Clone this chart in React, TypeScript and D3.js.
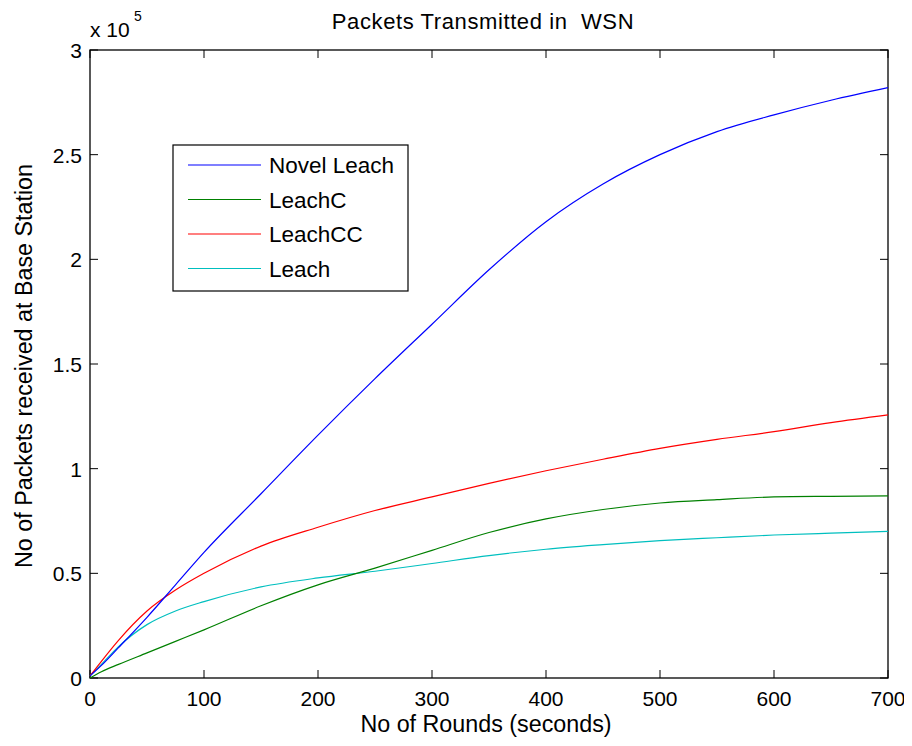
import * as d3 from 'd3';
import React, { useRef, useEffect } from 'react';

// rounds on the x axis
const rounds = [0, 10, 25, 50, 75, 100, 150, 200, 250, 300, 350, 400, 450, 500, 550, 600, 650, 700];

// packets received (x 10^5)
const novelLeach = [0.01, 0.06, 0.145, 0.29, 0.445, 0.6, 0.88, 1.16, 1.43, 1.69, 1.95, 2.18, 2.36, 2.5, 2.61, 2.69, 2.76, 2.82];
const leachC = [0.0, 0.03, 0.065, 0.12, 0.175, 0.23, 0.345, 0.445, 0.525, 0.61, 0.695, 0.76, 0.805, 0.836, 0.852, 0.865, 0.868, 0.87];
const leachCC = [0.01, 0.08, 0.18, 0.32, 0.42, 0.5, 0.63, 0.72, 0.8, 0.865, 0.93, 0.99, 1.045, 1.097, 1.14, 1.177, 1.22, 1.257];
const leach = [0.01, 0.065, 0.15, 0.255, 0.32, 0.365, 0.435, 0.478, 0.51, 0.547, 0.585, 0.615, 0.637, 0.656, 0.67, 0.683, 0.692, 0.7];

const seriesNames = ['Novel Leach', 'LeachC', 'LeachCC', 'Leach'];
const seriesColors = ['#0000ff', '#008000', '#ff0000', '#00bfbf'];

const xTicks = [0, 100, 200, 300, 400, 500, 600, 700];
const yTicks = [0, 0.5, 1, 1.5, 2, 2.5, 3];

const width = 912;
const height = 746;
const font = '"Liberation Sans", Arial, sans-serif';

function App() {
  const ref = useRef(null);

  useEffect(() => {
    const svg = d3.select(ref.current);
    svg.selectAll('*').remove();

    const left = 90, right = 888, top = 50, bottom = 678;

    const x = d3.scaleLinear().domain([0, 700]).range([left, right]);
    const y = d3.scaleLinear().domain([0, 3]).range([bottom, top]);

    svg.append('rect').attr('width', width).attr('height', height).attr('fill', '#fff');

    // plot box
    svg.append('rect')
      .attr('x', left).attr('y', top)
      .attr('width', right - left).attr('height', bottom - top)
      .attr('fill', 'none').attr('stroke', '#000').attr('stroke-width', 1.3);

    // x ticks (inside, top and bottom)
    xTicks.forEach(t => {
      svg.append('line').attr('x1', x(t)).attr('x2', x(t)).attr('y1', bottom).attr('y2', bottom - 8).attr('stroke', '#000');
      svg.append('line').attr('x1', x(t)).attr('x2', x(t)).attr('y1', top).attr('y2', top + 8).attr('stroke', '#000');
      svg.append('text').attr('x', x(t)).attr('y', 706)
        .attr('text-anchor', 'middle').attr('font-family', font).attr('font-size', 21)
        .text(t);
    });

    yTicks.forEach(t => {
      svg.append('line').attr('x1', left).attr('x2', left + 8).attr('y1', y(t)).attr('y2', y(t)).attr('stroke', '#000');
      svg.append('line').attr('x1', right).attr('x2', right - 8).attr('y1', y(t)).attr('y2', y(t)).attr('stroke', '#000');
      svg.append('text').attr('x', 82).attr('y', y(t) + 8)
        .attr('text-anchor', 'end').attr('font-family', font).attr('font-size', 21)
        .text(d3.format('~g')(t));
    });

    // exponent label
    svg.append('text').attr('x', 90).attr('y', 37).attr('font-family', font).attr('font-size', 21).text('x 10');
    svg.append('text').attr('x', 134).attr('y', 21).attr('font-family', font).attr('font-size', 14).text('5');

    // lines
    const allSeries = [novelLeach, leachC, leachCC, leach];
    const line = d3.line()
      .x((d, i) => x(rounds[i]))
      .y(d => y(d))
      .curve(d3.curveMonotoneX);

    [3, 1, 2, 0].forEach(k => {
      svg.append('path')
        .datum(allSeries[k])
        .attr('d', line)
        .attr('fill', 'none')
        .attr('stroke', seriesColors[k])
        .attr('stroke-width', 1.2);
    });

    // legend
    const lg = svg.append('g');
    lg.append('rect').attr('x', 173).attr('y', 145).attr('width', 235).attr('height', 146)
      .attr('fill', '#fff').attr('stroke', '#000').attr('stroke-width', 1.2);
    seriesNames.forEach((name, i) => {
      const ly = 165 + i * 34.5;
      lg.append('line').attr('x1', 188).attr('x2', 261).attr('y1', ly).attr('y2', ly)
        .attr('stroke', seriesColors[i]).attr('stroke-width', 1.2);
      lg.append('text').attr('x', 269).attr('y', ly + 8)
        .attr('font-family', font).attr('font-size', 22.5).text(name);
    });

    // title and axis labels
    svg.append('text').attr('x', 483).attr('y', 29).attr('text-anchor', 'middle')
      .attr('font-family', font).attr('font-size', 22).style('white-space', 'pre')
      .attr('letter-spacing', 0.6)
      .text('Packets Transmitted in  WSN');
    svg.append('text').attr('x', 486).attr('y', 732).attr('text-anchor', 'middle')
      .attr('font-family', font).attr('font-size', 23.3).text('No of Rounds (seconds)');
    svg.append('text').attr('transform', 'translate(32,366) rotate(-90)').attr('text-anchor', 'middle')
      .attr('font-family', font).attr('font-size', 23.3).text('No of Packets received at Base Station');
  }, []);

  return (
    <div style={{ margin: -8 }}>
      <svg ref={ref} width={width} height={height}></svg>
    </div>
  );
}

export default App;
